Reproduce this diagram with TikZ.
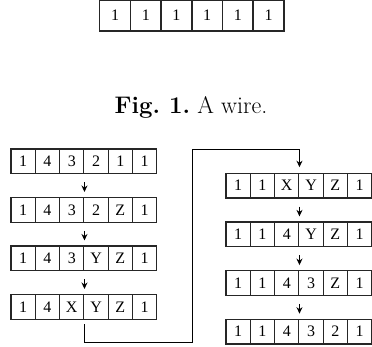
\documentclass[tikz,border=0pt]{standalone}
\usepackage{fontspec}
\newfontfamily\cellfont{Liberation Serif}
\usetikzlibrary{arrows.meta}
\begin{document}
\begin{tikzpicture}[x=1pt,y=-1pt,
  cell/.style={draw=black!85, line width=1.15pt, minimum width=24.3pt, minimum height=24.7pt, inner sep=0pt, font=\cellfont\fontsize{16}{16}\selectfont},
  bigcell/.style={cell, line width=1.5pt, minimum width=30.7pt, minimum height=30.4pt},
  flow/.style={draw=black, line width=1.1pt, -{Stealth[length=6.5pt,width=6pt]}},
  caption/.style={inner sep=0pt, anchor=base, font=\fontsize{24}{28}\selectfont}]
\useasboundingbox (0,0) rectangle (372,347);
% top wire
\foreach \t [count=\i] in {1,1,1,1,1,1}
  \node[bigcell] (Wc\i) at ({99.7+30.7*(\i-0.5)}, 15.6) {\t};
\node[caption] (cap) at (191,113.3) {\textbf{Fig.\ 1.}\ A wire.};
% left column
\foreach \t [count=\i] in {1,4,3,2,1,1}
  \node[cell] (Ac\i) at ({11+24.3*(\i-0.5)}, 161.4) {\t};
\foreach \t [count=\i] in {1,4,3,2,Z,1}
  \node[cell] (Bc\i) at ({11+24.3*(\i-0.5)}, 209.9) {\t};
\foreach \t [count=\i] in {1,4,3,Y,Z,1}
  \node[cell] (Cc\i) at ({11+24.3*(\i-0.5)}, 258.4) {\t};
\foreach \t [count=\i] in {1,4,X,Y,Z,1}
  \node[cell] (Dc\i) at ({11+24.3*(\i-0.5)}, 306.9) {\t};
% right column
\foreach \t [count=\i] in {1,1,X,Y,Z,1}
  \node[cell] (Ec\i) at ({226+24.3*(\i-0.5)}, 185.6) {\t};
\foreach \t [count=\i] in {1,1,4,Y,Z,1}
  \node[cell] (Fc\i) at ({226+24.3*(\i-0.5)}, 234.3) {\t};
\foreach \t [count=\i] in {1,1,4,3,Z,1}
  \node[cell] (Gc\i) at ({226+24.3*(\i-0.5)}, 283.0) {\t};
\foreach \t [count=\i] in {1,1,4,3,2,1}
  \node[cell] (Hc\i) at ({226+24.3*(\i-0.5)}, 331.6) {\t};
% arrows
\draw[flow] ([yshift=-8pt]Ac3.south east) -- ([yshift=5pt]Bc3.north east);
\draw[flow] ([yshift=-8pt]Bc3.south east) -- ([yshift=5pt]Cc3.north east);
\draw[flow] ([yshift=-8pt]Cc3.south east) -- ([yshift=5pt]Dc3.north east);
\draw[flow] ([yshift=-8pt]Ec3.south east) -- ([yshift=5pt]Fc3.north east);
\draw[flow] ([yshift=-8pt]Fc3.south east) -- ([yshift=5pt]Gc3.north east);
\draw[flow] ([yshift=-8pt]Gc3.south east) -- ([yshift=5pt]Hc3.north east);
% connector
\coordinate (b1) at (192.3,342.3);
\coordinate (t1) at (192.3,149.5);
\draw[flow] ([yshift=-4.5pt]Dc3.south east) |- (b1) -- (t1) -| ([yshift=5.5pt]Ec3.north east);
\end{tikzpicture}
\end{document}
